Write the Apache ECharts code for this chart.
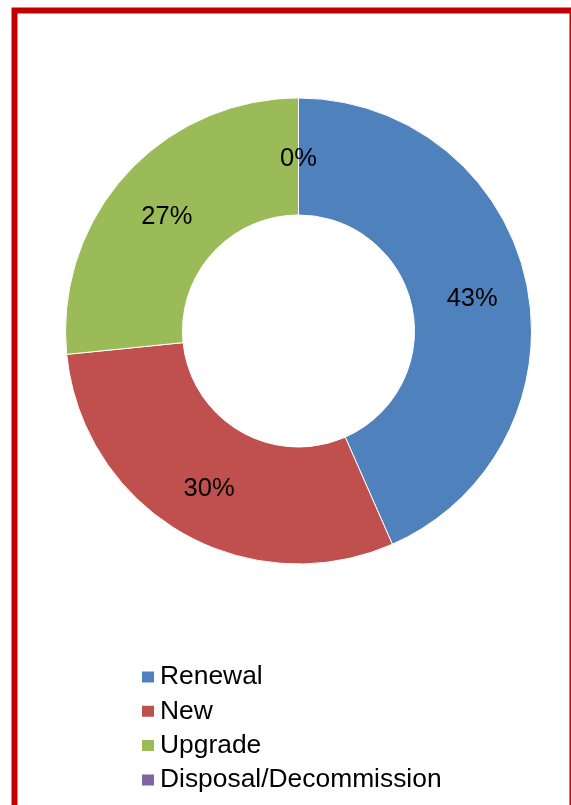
<!DOCTYPE html>
<html>
<head>
<meta charset="utf-8">
<script src="https://cdn.jsdelivr.net/npm/echarts@6/dist/echarts.min.js"></script>
<style>
  html, body { margin: 0; padding: 0; background: #ffffff; }
  #chart { width: 571px; height: 805px; }
</style>
</head>
<body>
<div id="chart"></div>
<script>
// Project categories and their share of the total
const categories = ['Renewal', 'New', 'Upgrade', 'Disposal/Decommission'];
const shares = [43.4, 30.0, 26.6, 0];
const colors = ['#4F81BD', '#C0504D', '#9BBB59', '#8064A2'];

const FONT = '"Liberation Sans", Arial, sans-serif';

const chart = echarts.init(document.getElementById('chart'), null, { renderer: 'canvas' });

chart.setOption({
  backgroundColor: '#ffffff',
  animation: false,
  color: colors,
  graphic: [{
    type: 'rect',
    z: 100,
    shape: { x: 14.5, y: 10.5, width: 558, height: 1000 },
    style: { fill: 'none', stroke: '#C00000', lineWidth: 6 }
  }],
  legend: {
    orient: 'vertical',
    left: 140,
    top: 664,
    padding: 0,
    icon: 'rect',
    itemWidth: 14,
    itemHeight: 13,
    itemGap: 8.3,
    textStyle: { fontFamily: FONT, fontSize: 26.4, lineHeight: 26, color: '#000000' },
    data: categories
  },
  series: [{
    type: 'pie',
    center: [298.5, 331],
    radius: [116, 233],
    startAngle: 90,
    clockwise: true,
    percentPrecision: 0,
    avoidLabelOverlap: false,
    silent: true,
    itemStyle: { borderColor: '#ffffff', borderWidth: 1 },
    label: {
      show: true,
      position: 'inside',
      formatter: '{d}%',
      fontFamily: FONT,
      fontSize: 25.5,
      color: '#000000',
      offset: [0, 5]
    },
    labelLine: { show: false },
    data: categories.map((name, i) => ({ name: name, value: shares[i] }))
  }]
});
</script>
</body>
</html>
